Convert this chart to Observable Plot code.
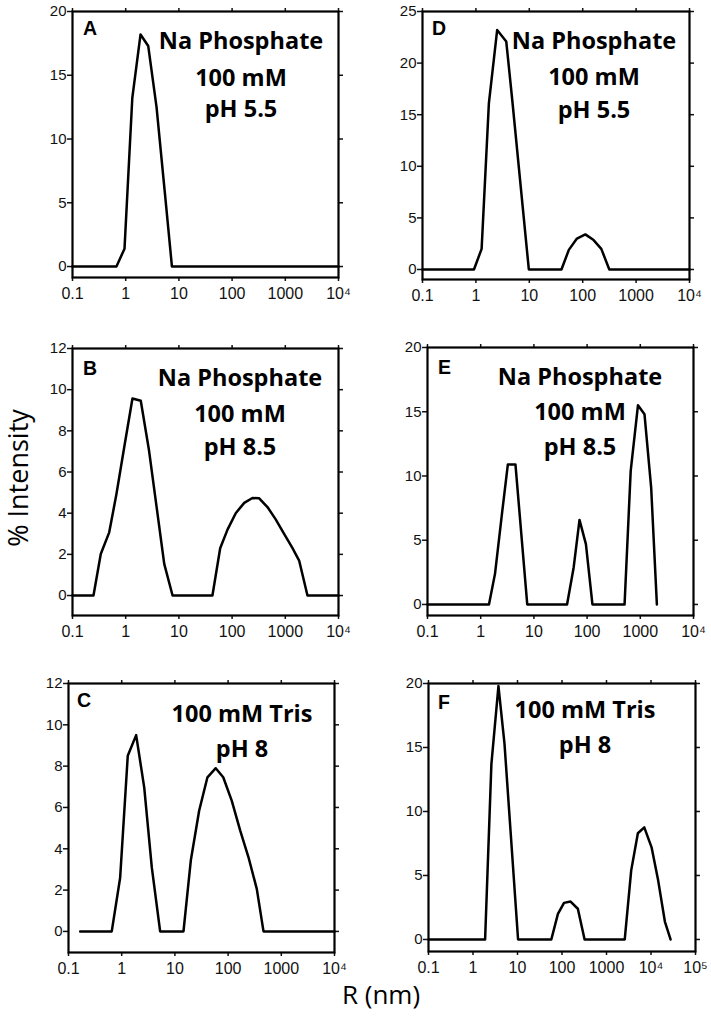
<!DOCTYPE html>
<html>
<head>
<meta charset="utf-8">
<script src="https://cdn.jsdelivr.net/npm/d3@7"></script>
<script src="https://cdn.jsdelivr.net/npm/@observablehq/plot@0.6"></script>
<style>
  html, body { margin: 0; padding: 0; background: #fff; }
  #page { position: relative; width: 711px; height: 1028px; overflow: hidden; background: #fff; }
  #page > svg.panel { position: absolute; }
  #page > svg.panel g[aria-label="y-axis tick label"] { font-size: 15px; }
  #page > svg.panel g[aria-label="x-axis tick label"] { font-size: 16px; }
  #overlay { position: absolute; left: 0; top: 0; pointer-events: none; }
</style>
</head>
<body>
<div id="page"></div>
<script>
// ---------- DATA ----------
// Panel A: Na Phosphate 100 mM pH 5.5
const rA = [0.1, 0.67, 0.95, 1.33, 1.9, 2.65, 3.8, 5.5, 7.4, 10000];
const vA = [0, 0, 1.4, 13.2, 18.2, 17.3, 12.5, 5.6, 0, 0];
// Panel D: Na Phosphate 100 mM pH 5.5
const rD = [0.1, 0.92, 1.28, 1.75, 2.5, 3.7, 4.8, 9.8, 40, 55, 78, 112, 160, 223, 315, 10000];
const vD = [0, 0, 2.0, 16.1, 23.2, 22.1, 16.4, 0, 0, 1.9, 3.0, 3.4, 2.85, 2.0, 0, 0];
// Panel B: Na Phosphate 100 mM pH 8.5
const rB = [0.1, 0.248, 0.34, 0.49, 0.67, 0.96, 1.34, 1.92, 2.75, 5.3, 7.6, 42.7, 59.7, 82, 117, 169, 241, 323, 462, 660, 950, 1366, 1820, 2610, 10000];
const vB = [0, 0, 2.02, 3.07, 4.93, 7.36, 9.57, 9.46, 7.03, 1.54, 0, 0, 2.3, 3.2, 4.0, 4.5, 4.74, 4.72, 4.3, 3.7, 3.0, 2.3, 1.7, 0, 0];
// Panel E: Na Phosphate 100 mM pH 8.5
const rE = [0.1, 1.43, 1.86, 2.55, 3.24, 4.5, 7.5, 42, 56, 72, 95, 126, 506, 660, 904, 1200, 1600, 2050];
const vE = [0, 0, 2.4, 7.3, 10.9, 10.9, 0, 0, 2.9, 6.58, 4.7, 0, 0, 10.4, 15.5, 14.8, 9.1, 0];
// Panel C: 100 mM Tris pH 8
const rC = [0.166, 0.65, 0.935, 1.30, 1.87, 2.65, 3.68, 5.28, 14.5, 19.9, 28.6, 40.9, 58.6, 81, 117, 169, 241, 346, 463, 10000];
const vC = [0, 0, 2.6, 8.5, 9.5, 6.97, 3.1, 0, 0, 3.43, 5.85, 7.46, 7.9, 7.46, 6.33, 4.88, 3.6, 2.06, 0, 0];
// Panel F: 100 mM Tris pH 8
const rF = [0.1, 1.87, 2.59, 3.73, 5.1, 10.3, 57.5, 81, 111, 156, 227, 322, 2570, 3590, 5070, 7060, 10300, 14500, 20500, 27500];
const vF = [0, 0, 13.7, 19.8, 15.3, 0, 0, 2.0, 2.86, 2.96, 2.4, 0, 0, 5.4, 8.3, 8.76, 7.2, 4.6, 1.4, 0];

// Tick values and labels
const xTicks4 = [0.1, 1, 10, 100, 1000, 10000];
const xTicks5 = [0.1, 1, 10, 100, 1000, 10000, 100000];
const xTickLabels = {0.1: "0.1", 1: "1", 10: "10", 100: "100", 1000: "1000", 10000: "10\u2074", 100000: "10\u2075"};
const yTicks20 = [0, 5, 10, 15, 20];
const yTicks25 = [0, 5, 10, 15, 20, 25];
const yTicks12 = [0, 2, 4, 6, 8, 10, 12];

// Text
const labelsA = ["Na Phosphate", "100 mM", "pH 5.5"];
const labelsD = ["Na Phosphate", "100 mM", "pH 5.5"];
const labelsB = ["Na Phosphate", "100 mM", "pH 8.5"];
const labelsE = ["Na Phosphate", "100 mM", "pH 8.5"];
const labelsC = ["100 mM Tris", "pH 8"];
const labelsF = ["100 mM Tris", "pH 8"];
const yTitle = "% Intensity";
const xTitle = "R (nm)";

// ---------- PANELS ----------
const panels = [
  {id: "A", r: rA, v: vA, xT: xTicks4, yT: yTicks20, yMin: -0.86, yMax: 20, lines: labelsA},
  {id: "D", r: rD, v: vD, xT: xTicks4, yT: yTicks25, yMin: -0.97, yMax: 25, lines: labelsD},
  {id: "B", r: rB, v: vB, xT: xTicks4, yT: yTicks12, yMin: -0.97, yMax: 12, lines: labelsB},
  {id: "E", r: rE, v: vE, xT: xTicks4, yT: yTicks20, yMin: -0.86, yMax: 20, lines: labelsE},
  {id: "C", r: rC, v: vC, xT: xTicks4, yT: yTicks12, yMin: -1.02, yMax: 12, lines: labelsC},
  {id: "F", r: rF, v: vF, xT: xTicks5, yT: yTicks20, yMin: -0.94, yMax: 20, lines: labelsF}
];

// layout (frame: x1, x2, y1, y2 in page px; text: letter pos, text centre, baselines)
const layout = {
  A: {frame: [72, 338, 11, 277], letter: [83, 35], cx: 241, base: [49, 86, 117]},
  D: {frame: [422, 689, 11, 279], letter: [432, 35], cx: 594, base: [49, 85, 118]},
  B: {frame: [72, 338, 348, 615], letter: [83, 375], cx: 240, base: [386, 422, 455]},
  E: {frame: [427, 693, 347, 615], letter: [438, 374], cx: 580, base: [385, 420, 455]},
  C: {frame: [68, 334, 683, 952], letter: [77, 707], cx: 242, base: [722, 757]},
  F: {frame: [428, 695, 683, 951], letter: [438, 709], cx: 585, base: [718, 753]}
};

const mL = 45, mR = 15, mT = 8, mB = 35;
const page = document.getElementById("page");

for (const p of panels) {
  const L = layout[p.id];
  const [x1, x2, y1, y2] = L.frame;
  const W = (x2 - x1) + mL + mR;
  const H = (y2 - y1) + mT + mB;
  const data = p.r.map((r, i) => ({r, v: p.v[i]}));
  const chart = Plot.plot({
    width: W, height: H,
    marginLeft: mL, marginRight: mR, marginTop: mT, marginBottom: mB,
    style: {fontFamily: "'Liberation Sans', Arial, sans-serif", fontSize: "15px", color: "#111", background: "transparent", overflow: "visible"},
    x: {type: "log", domain: [p.xT[0], p.xT[p.xT.length - 1]]},
    y: {domain: [p.yMin, p.yMax]},
    marks: [
      Plot.axisY({anchor: "left", ticks: p.yT, tickSize: 5, tickPadding: 1, fontSize: 15, strokeWidth: 1.5, label: null, tickFormat: d => String(d)}),
      Plot.axisY({anchor: "right", ticks: p.yT, tickSize: 4, strokeWidth: 1.5, label: null, tickFormat: () => ""}),
      Plot.axisX({anchor: "bottom", ticks: p.xT, tickSize: 4, tickPadding: 6, fontSize: 16, strokeWidth: 1.5, label: null, tickFormat: d => xTickLabels[d]}),
      Plot.axisX({anchor: "top", ticks: p.xT, tickSize: 4, strokeWidth: 1.5, label: null, tickFormat: () => ""}),
      Plot.line(data, {x: "r", y: "v", stroke: "#000", strokeWidth: 2.5}),
      Plot.frame({stroke: "#000", strokeWidth: 2.2})
    ]
  });
  chart.classList.add("panel");
  chart.style.left = (x1 - mL) + "px";
  chart.style.top = (y1 - mT) + "px";
  page.appendChild(chart);
}

// ---------- TEXT OVERLAY ----------
const ov = d3.select(page).append("svg")
  .attr("id", "overlay").attr("width", 711).attr("height", 1028);

for (const p of panels) {
  const L = layout[p.id];
  ov.append("text")
    .attr("x", L.letter[0]).attr("y", L.letter[1])
    .attr("font-family", "'Liberation Sans', Arial, sans-serif")
    .attr("font-weight", "bold").attr("font-size", 19.5)
    .attr("fill", "#000").text(p.id);
  p.lines.forEach((t, i) => {
    ov.append("text")
      .attr("x", L.cx).attr("y", L.base[i])
      .attr("text-anchor", "middle")
      .attr("font-family", "'Open Sans', sans-serif")
      .attr("font-weight", "bold").attr("font-size", 23.5)
      .attr("fill", "#000").text(t);
  });
}

ov.append("text")
  .attr("transform", "translate(28,478) rotate(-90)")
  .attr("text-anchor", "middle")
  .attr("font-family", "'Open Sans', sans-serif")
  .attr("font-size", 27).attr("fill", "#000").text(yTitle);

ov.append("text")
  .attr("x", 381).attr("y", 1004)
  .attr("text-anchor", "middle")
  .attr("font-family", "'Open Sans', sans-serif")
  .attr("font-size", 26).attr("fill", "#000").text(xTitle);
</script>
</body>
</html>
